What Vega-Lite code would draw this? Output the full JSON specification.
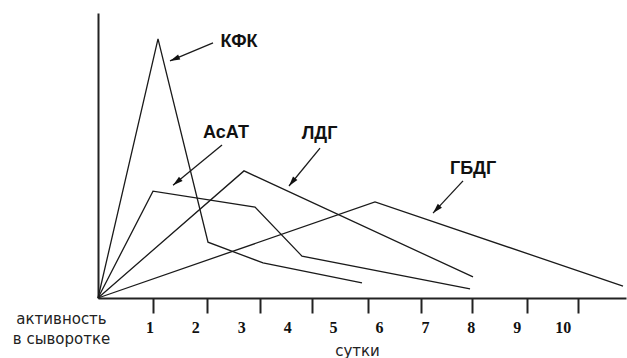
{
  "$schema": "https://vega.github.io/schema/vega-lite/v6.json",
  "autosize": {"type": "none"},
  "padding": {"left": 98, "top": 13, "right": 1, "bottom": 60},
  "width": 528,
  "height": 285,
  "background": "white",
  "config": {"view": {"stroke": null}},
  "datasets": {
    "lines": [
      {"series": "КФК", "day": 0, "val": 0},
      {"series": "КФК", "day": 1.307, "val": 90.9},
      {"series": "КФК", "day": 2.396, "val": 19.6},
      {"series": "КФК", "day": 3.594, "val": 12.3},
      {"series": "КФК", "day": 5.75, "val": 5.3},
      {"series": "АсАТ", "day": 0, "val": 0},
      {"series": "АсАТ", "day": 1.198, "val": 37.5},
      {"series": "АсАТ", "day": 3.42, "val": 31.9},
      {"series": "АсАТ", "day": 4.443, "val": 14.7},
      {"series": "АсАТ", "day": 8.103, "val": 3.2},
      {"series": "ЛДГ", "day": 0, "val": 0},
      {"series": "ЛДГ", "day": 3.18, "val": 44.6},
      {"series": "ЛДГ", "day": 8.168, "val": 7.4},
      {"series": "ГБДГ", "day": 0, "val": 0},
      {"series": "ГБДГ", "day": 6.033, "val": 33.7},
      {"series": "ГБДГ", "day": 11.435, "val": 4.2}
    ],
    "notes": [
      {"name": "КФК", "tx": 3.071, "ty": 90.0, "sx": 2.505, "sy": 89.5, "ex": 1.568, "ey": 83.2, "angle": 247.3},
      {"name": "АсАТ", "tx": 2.788, "ty": 57.9, "sx": 2.701, "sy": 53.7, "ex": 1.634, "ey": 39.6, "angle": 230.8},
      {"name": "ЛДГ", "tx": 4.825, "ty": 57.4, "sx": 4.836, "sy": 52.6, "ex": 4.16, "ey": 39.3, "angle": 218.5},
      {"name": "ГБДГ", "tx": 8.168, "ty": 45.1, "sx": 7.95, "sy": 41.1, "ex": 7.297, "ey": 29.8, "angle": 223.2}
    ],
    "labels": [
      {"day": 1, "label": "1"}, {"day": 2, "label": "2"}, {"day": 3, "label": "3"},
      {"day": 4, "label": "4"}, {"day": 5, "label": "5"}, {"day": 6, "label": "6"},
      {"day": 7, "label": "7"}, {"day": 8, "label": "8"}, {"day": 9, "label": "9"},
      {"day": 10, "label": "10"}
    ]
  },
  "layer": [
    {
      "data": {"name": "lines"},
      "mark": {"type": "line", "color": "#1a1a1a", "strokeWidth": 1.3, "clip": false},
      "encoding": {
        "x": {
          "field": "day", "type": "quantitative",
          "scale": {"domain": [0, 11.5], "nice": false, "zero": false},
          "axis": {
            "values": [1.205, 2.368, 3.529, 4.661, 5.881, 7.035, 8.146, 9.344, 10.455],
            "labels": false, "grid": false,
            "domainColor": "#222", "domainWidth": 2,
            "tickColor": "#222", "tickWidth": 2, "tickSize": 15,
            "title": "сутки", "titleFont": "DejaVu Sans", "titleFontSize": 15,
            "titleFontWeight": "normal", "titleColor": "#222",
            "titleX": 259, "titleY": 57, "titleAlign": "center", "titleBaseline": "alphabetic"
          }
        },
        "y": {
          "field": "val", "type": "quantitative",
          "scale": {"domain": [0, 100], "nice": false},
          "axis": {
            "labels": false, "ticks": false, "grid": false,
            "domainColor": "#222", "domainWidth": 2,
            "title": ["активность", "в сыворотке"], "titleFont": "DejaVu Sans", "titleFontSize": 15,
            "titleFontWeight": "normal", "titleColor": "#222", "titleAngle": 0,
            "titleX": -37, "titleY": 310, "titleAlign": "center", "titleBaseline": "alphabetic",
            "titleLineHeight": 20
          }
        },
        "detail": {"field": "series", "type": "nominal"}
      }
    },
    {
      "data": {"name": "labels"},
      "mark": {"type": "text", "font": "Liberation Serif", "fontWeight": "bold", "fontSize": 16, "color": "#111", "baseline": "alphabetic", "align": "center", "dy": 35, "dx": 6, "clip": false},
      "encoding": {
        "x": {"field": "day", "type": "quantitative"},
        "y": {"datum": 0},
        "text": {"field": "label", "type": "nominal"}
      }
    },
    {
      "data": {"name": "notes"},
      "mark": {"type": "rule", "color": "#1a1a1a", "strokeWidth": 1.3},
      "encoding": {
        "x": {"field": "sx", "type": "quantitative"},
        "y": {"field": "sy", "type": "quantitative"},
        "x2": {"field": "ex"},
        "y2": {"field": "ey"}
      }
    },
    {
      "data": {"name": "notes"},
      "mark": {"type": "point", "shape": "M0,0L-0.45,1.6L0.45,1.6Z", "filled": true, "size": 156, "color": "#111", "opacity": 1},
      "encoding": {
        "x": {"field": "ex", "type": "quantitative"},
        "y": {"field": "ey", "type": "quantitative"},
        "angle": {"field": "angle", "type": "quantitative", "scale": null}
      }
    },
    {
      "data": {"name": "notes"},
      "mark": {"type": "text", "font": "Liberation Sans", "fontWeight": "bold", "fontSize": 18, "color": "#111", "baseline": "middle", "align": "center"},
      "encoding": {
        "x": {"field": "tx", "type": "quantitative"},
        "y": {"field": "ty", "type": "quantitative"},
        "text": {"field": "name", "type": "nominal"}
      }
    }
  ]
}
